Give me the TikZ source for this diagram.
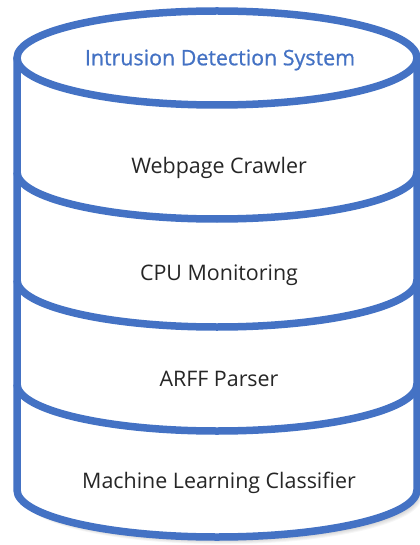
\documentclass[tikz,border=0pt]{standalone}
\usepackage{fontspec}
\setmainfont{Open Sans}
\definecolor{cylblue}{HTML}{4472C4}
\definecolor{labelgray}{HTML}{262626}
\tikzset{
  rim/.style={draw=cylblue, line width=7.5bp},
  layerlabel/.style={font=\fontsize{21.5}{26}\selectfont, text=labelgray, inner sep=0pt},
  titlelabel/.style={font=\fontsize{21.5}{26}\selectfont\addfontfeatures{FakeBold=0.8}, text=cylblue, inner sep=0pt},
}
\begin{document}
\begin{tikzpicture}[x=1bp, y=-1bp]
  \useasboundingbox (0,0) rectangle (419,545);
  % soft shadow under the drum
  \foreach \i in {1,...,8} {
    \fill[black, opacity=0.035]
      ([shift={(0.6*\i,0.9*\i)}]17,58) -- ++(0,432)
      arc[start angle=180, end angle=0, x radius=200, y radius=47]
      -- ++(0,-432) -- cycle;
  }
  % body of the drum
  \fill[white] (17,58) -- (17,490)
    arc[start angle=180, end angle=0, x radius=200, y radius=47]
    -- (417,58) -- cycle;
  % outline: sides, bottom and top lid
  \draw[rim] (17,58) -- (17,490)
    arc[start angle=180, end angle=0, x radius=200, y radius=47]
    -- (417,58);
  \draw[rim, fill=white] (217,58) ellipse[x radius=200, y radius=47];
  % separators between layers
  \foreach \y in {172,280,384} {
    \draw[rim] (17,\y) arc[start angle=180, end angle=0, x radius=200, y radius=47];
  }
  % labels
  \node[titlelabel] (ids) at (220,60) {Intrusion Detection System};
  \node[layerlabel] (crawler) at (219,168) {Webpage Crawler};
  \node[layerlabel] (cpu) at (219,275) {CPU Monitoring};
  \node[layerlabel] (arff) at (219,379) {ARFF Parser};
  \node[layerlabel] (ml) at (219,483) {Machine Learning Classifier};
\end{tikzpicture}
\end{document}
